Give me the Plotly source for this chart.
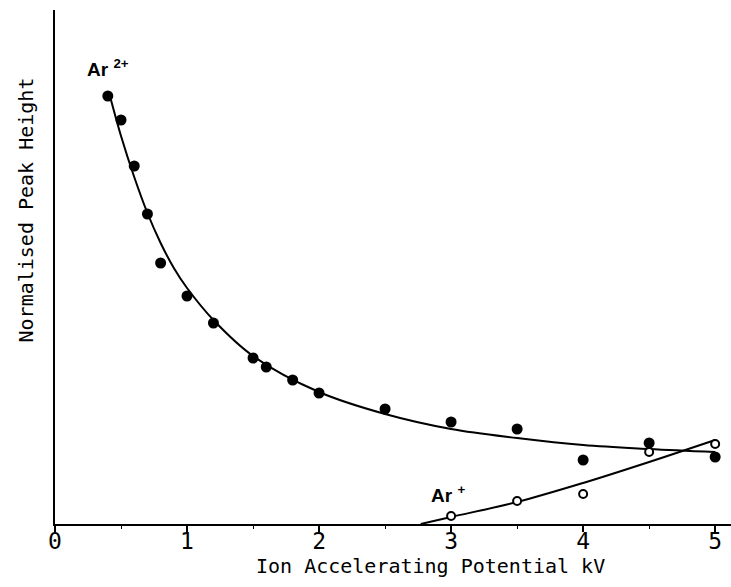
import plotly.graph_objects as go

# Ar2+ measured peak heights (filled circles)
ar2_kv = [0.4, 0.5, 0.6, 0.7, 0.8, 1.0, 1.2, 1.5, 1.6, 1.8, 2.0, 2.5, 3.0, 3.5, 4.0, 4.5, 5.0]
ar2_h = [4.28, 4.04, 3.58, 3.10, 2.61, 2.28, 2.01, 1.66, 1.57, 1.44, 1.31, 1.15, 1.02, 0.95, 0.64, 0.81, 0.67]

# Ar+ measured peak heights (open circles)
ar1_kv = [3.0, 3.5, 4.0, 4.5, 5.0]
ar1_h = [0.08, 0.23, 0.30, 0.72, 0.80]

# Smooth trend lines drawn through the data
ar2_fit_kv = [0.41, 0.5, 0.6, 0.7, 0.8, 0.9, 1.0, 1.2, 1.5, 2.0, 2.5, 3.0, 3.5, 4.0, 4.5, 5.0]
ar2_fit_h = [4.31, 3.88, 3.47, 3.11, 2.81, 2.56, 2.36, 2.04, 1.68, 1.32, 1.10, 0.95, 0.86, 0.79, 0.75, 0.72]
ar1_fit_kv = [2.77, 3.0, 3.5, 4.0, 4.5, 5.0]
ar1_fit_h = [0.0, 0.07, 0.22, 0.41, 0.62, 0.84]

tick_vals = [0, 1, 2, 3, 4, 5]
tick_text = ["0", "1", "2", "3", "4", "5"]

MONO = "DejaVu Sans Mono"
SANS = "Liberation Sans"

fig = go.Figure()
fig.add_trace(go.Scatter(x=ar2_fit_kv, y=ar2_fit_h, mode="lines",
                         line=dict(color="black", width=2, shape="spline", smoothing=1.0),
                         hoverinfo="skip"))
fig.add_trace(go.Scatter(x=ar1_fit_kv, y=ar1_fit_h, mode="lines",
                         line=dict(color="black", width=2, shape="spline", smoothing=1.0),
                         hoverinfo="skip"))
fig.add_trace(go.Scatter(x=ar2_kv, y=ar2_h, mode="markers",
                         marker=dict(symbol="circle", size=11, color="black")))
fig.add_trace(go.Scatter(x=ar1_kv, y=ar1_h, mode="markers",
                         marker=dict(symbol="circle", size=8, color="white",
                                     line=dict(color="black", width=2))))

fig.update_layout(
    width=731, height=587,
    margin=dict(l=55, r=0, t=10, b=63),
    paper_bgcolor="white", plot_bgcolor="white",
    showlegend=False,
    xaxis=dict(range=[0, 5.12], showgrid=False, zeroline=False,
               showline=True, linecolor="black", linewidth=2,
               tickvals=tick_vals, ticktext=tick_text,
               ticks="outside", ticklen=6, tickwidth=2, tickcolor="black",
               ticklabelstandoff=-11,
               minor=dict(dtick=0.5, tick0=0, ticks="outside", ticklen=3,
                          tickwidth=1, tickcolor="black"),
               tickfont=dict(family=MONO, size=23, color="black")),
    yaxis=dict(range=[0, 5.14], showgrid=False, zeroline=False,
               showline=True, linecolor="black", linewidth=2,
               showticklabels=False, ticks=""),
    annotations=[
        dict(text="Ion Accelerating Potential kV", xref="paper", yref="paper",
             x=0.556, y=0, xanchor="center", yanchor="middle", yshift=-42,
             showarrow=False, font=dict(family=MONO, size=20, color="black")),
        dict(text="Normalised Peak Height", xref="paper", yref="paper",
             x=0, y=0.61, xanchor="center", yanchor="middle", xshift=-29,
             textangle=-90, showarrow=False,
             font=dict(family=MONO, size=20, color="black")),
        dict(text="<b>Ar <sup>2+</sup></b>", xref="x", yref="y",
             x=0.40, y=4.56, xanchor="center", yanchor="middle",
             showarrow=False, font=dict(family=SANS, size=19, color="black")),
        dict(text="<b>Ar <sup>+</sup></b>", xref="x", yref="y",
             x=2.98, y=0.30, xanchor="center", yanchor="middle",
             showarrow=False, font=dict(family=SANS, size=19, color="black")),
    ],
)

fig.write_html("out.html")
